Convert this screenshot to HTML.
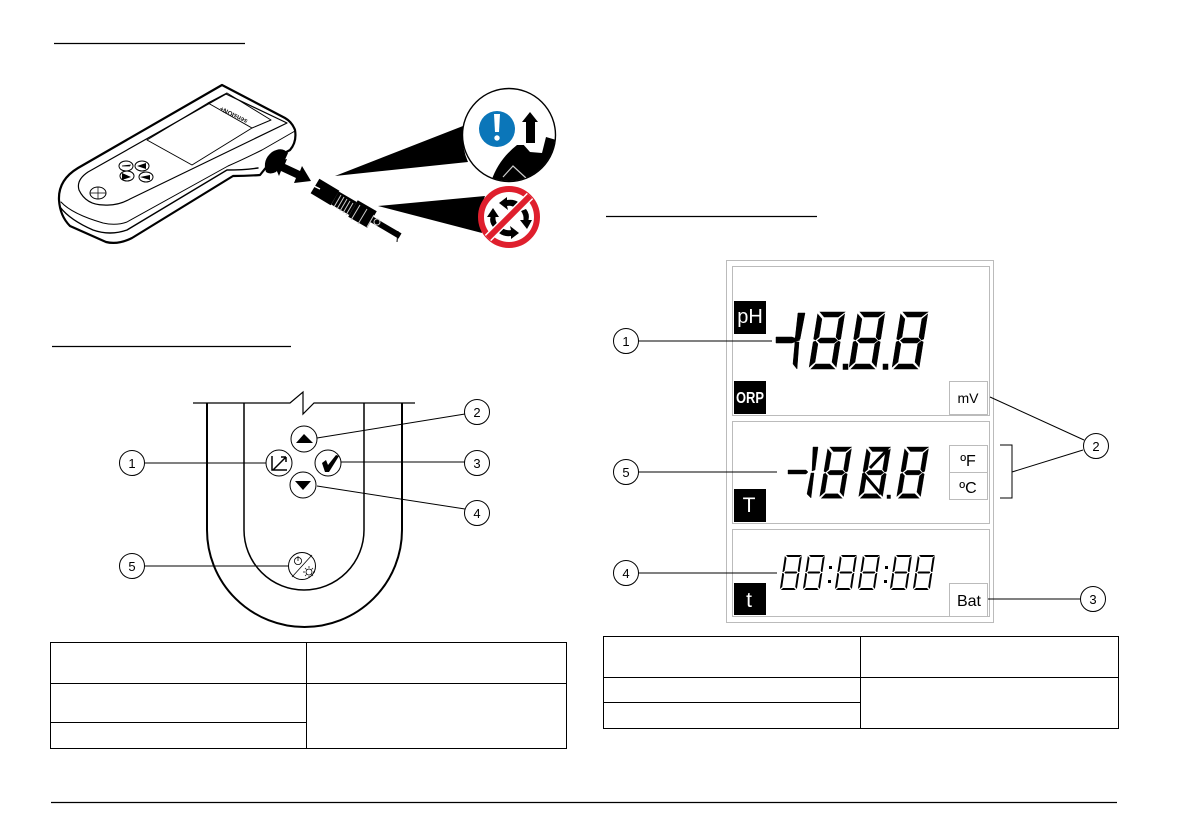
<!DOCTYPE html>
<html><head><meta charset="utf-8"><style>
html,body{margin:0;padding:0;background:#fff}
svg{display:block}
text{font-family:"Liberation Sans",sans-serif}
</style></head><body>
<svg width="1192" height="840" viewBox="0 0 1192 840" xmlns="http://www.w3.org/2000/svg">
<defs><clipPath id="mag"><circle cx="509" cy="135" r="46"/></clipPath></defs>
<rect width="1192" height="840" fill="#fff"/>
<!-- header rules -->
<g stroke="#000" stroke-width="1.3">
<path d="M54 43.500H245M52 346.500H291M606 216.500H817M51 802.500H1117"/>
</g>
<!-- meter -->
<g fill="none" stroke="#000" stroke-linejoin="round" stroke-linecap="round">
<path stroke-width="2.200" fill="#fff" d="M222 85L78 168Q58 180 59 200Q60 216 70 226L106 242Q118 245 132 238L233 176Q246 176 260 175L272 160L290 150Q297 142 295 130Q292 122 285 118Z"/>
<path stroke-width="1.400" d="M60 207Q70 220 93 230Q110 236 127 230L227 170Q244 170 258 168"/>
<path stroke-width="1" d="M61 202Q72 214 103 223Q116 226 127 222L228 166Q242 160 262 150L295 131"/>
<path stroke-width="1.200" d="M226 94L88 172Q76 180 79 190Q86 205 104 205Q118 206 130 199L287 123Z"/>
<path stroke-width="1" d="M208 103L252 128L192 165L147 140Z"/>
<path stroke-width="1" d="M208 103L227 93L271 120L252 128"/>
<ellipse cx="126" cy="166" rx="7" ry="5" stroke-width="1"/>
<ellipse cx="142" cy="166" rx="7" ry="5" stroke-width="1"/>
<ellipse cx="127" cy="176" rx="7" ry="5" stroke-width="1"/>
<ellipse cx="146" cy="177" rx="7" ry="5" stroke-width="1"/>
<ellipse cx="98" cy="193" rx="8" ry="6" stroke-width="1"/>
<path stroke-width=".7" d="M90 193H106M98 187V199"/>
</g>
<g fill="#000">
<path d="M122 166L131 165M123 166H130" stroke="#000" stroke-width=".8"/>
<path d="M137 166L146 163V169Z"/>
<path d="M122 173L131 177L122 180ZM140 177L150 175V180Z"/>
<path d="M266 172Q262 160 272 152Q282 146 288 153L284 162L276 172Q270 175 266 172Z"/>
<path d="M273 162L287 159L285 164L300 171L302 166L311 181L294 183L296 178L281 171L279 176Z"/>
</g>
<text transform="translate(248 120) rotate(207)" font-size="6.500" font-weight="bold" fill="#111">sensION+</text>
<!-- connector -->
<g fill="none" stroke="#000">
<path stroke-width="17" d="M315 186L335 198"/>
<path stroke-width="15" d="M335 198L353 208.500"/>
<path stroke-width="19" d="M353 208.500L372 219.500"/>
<path stroke-width="6" d="M372 219.500L400 236"/>
</g>
<path d="M398 231L397 242" stroke="#000" stroke-width="1"/>
<g stroke="#ccc" stroke-width="1" fill="none">
<path d="M341 195L334 207M344 197L337 209M347 199L340 211M350 201L343 213M353 203L346 215"/>
<path d="M360 205L351 220M367 209L358 224M374 215L367 227"/>
<path d="M318 179L314 186L320 189" stroke="#fff" stroke-width="1.500"/>
</g>
<circle cx="377" cy="222" r="3" fill="none" stroke="#ccc" stroke-width="1"/>
<!-- beams -->
<path d="M335 176L463 126Q461 146 468 162Z" fill="#000"/>
<path d="M378 206L485 196Q477 215 482 233Z" fill="#000"/>
<!-- magnifier circle -->
<circle cx="509" cy="135" r="46.500" fill="#fff" stroke="#000" stroke-width="1.400"/>
<g clip-path="url(#mag)">
<path d="M491 182Q498 160 517 145L527 145L542 153L546 137L560 141V190H491Z" fill="#000"/>
<path d="M522 143L540 149L542 153L530 152Z" fill="#fff"/>
<path d="M503 177L513 166L526 178" fill="none" stroke="#ccc" stroke-width="1.200"/>
</g>
<path d="M530 112L538 122H535V143H526V122H522Z" fill="#000"/>
<circle cx="497" cy="129" r="18" fill="#0b76b9"/>
<path d="M494 114H500L499 132H495Z" fill="#fff"/>
<circle cx="497" cy="138" r="2.700" fill="#fff"/>
<!-- prohibited -->
<circle cx="509" cy="217" r="28" fill="#fff" stroke="#df1f2d" stroke-width="6"/>
<g fill="#000">
<path d="M499 203L507 197L507 200Q514 199 518 202L516 208Q511 205 507 206L508 210Z"/>
<path d="M493 208L499 217L495.500 217Q495 221 498 225L493 227Q489 222 490.500 217L487 217Z"/>
<path d="M527 229L520 220L523.500 220Q524 215 521 211L526 209Q530 214 528.500 220L532 220Z"/>
<path d="M519 233L511 239L511 236Q504 237 499 233L502 228Q507 231 511 230L510 226Z"/>
</g>
<path d="M488 238L530 196" stroke="#fff" stroke-width="9"/>
<path d="M488 238L530 196" stroke="#df1f2d" stroke-width="6"/>
<!-- keypad -->
<g fill="none" stroke="#000">
<path stroke-width="1.200" d="M193 403H290L303 392V414L314 403H415"/>
<path stroke-width="2" d="M207 403V530A97.500 97 0 0 0 402 530V403"/>
<path stroke-width="1.500" d="M244 403V530A60 60 0 0 0 364 530V403"/>
</g>
<g fill="#fff" stroke="#000" stroke-width="1">
<circle cx="304" cy="439" r="13"/><circle cx="303" cy="485" r="13"/>
<circle cx="279" cy="463" r="13"/><circle cx="328" cy="463" r="13"/>
<circle cx="302" cy="566" r="13.500"/>
</g>
<path d="M296 443L304 434L313 443Z M295 481H311L303 490Z"/>
<path d="M322 463L326 460L328 465L336 455L339 456L329 472H325Z"/>
<path d="M272 456V470H287M273 470L286 457M286 457V462M286 457H281" fill="none" stroke="#000" stroke-width="1.500"/>
<path d="M292 577L312 555" stroke="#000" stroke-width=".8"/>
<circle cx="298" cy="561" r="3.600" fill="none" stroke="#000" stroke-width=".8"/>
<path d="M298 556V561" stroke="#000" stroke-width=".8"/>
<circle cx="309" cy="572" r="3" fill="none" stroke="#000" stroke-width=".8"/>
<path d="M309 566V568M309 576V578M303 572H305M313 572H315M305 568L306.500 569.500M313 576L311.500 574.500M305 576L306.500 574.500M313 568L311.500 569.500" stroke="#000" stroke-width=".7"/>
<g stroke="#000" stroke-width="1" fill="none">
<path d="M145 463H266M317 438L465 414M341 462H465M317 486L465 509M145 566H288"/>
</g>
<g fill="#fff" stroke="#000" stroke-width="1">
<circle cx="132" cy="463" r="12.500"/><circle cx="132" cy="566" r="12.500"/>
<circle cx="477" cy="412" r="12.500"/><circle cx="477" cy="463" r="12.500"/><circle cx="477" cy="513" r="12.500"/>
</g>
<g font-size="13" text-anchor="middle" fill="#000">
<text x="132" y="468">1</text><text x="132" y="571">5</text>
<text x="477" y="417">2</text><text x="477" y="468">3</text><text x="477" y="518">4</text>
</g>
<!-- tables -->
<g stroke="#000" stroke-width="1" fill="none">
<path d="M50.500 642.500H566.500V748.500H50.500ZM306.500 642.500V748.500M50.500 683.500H566.500M50.500 722.500H306.500"/>
<path d="M603.500 636.500H1118.500V728.500H603.500ZM860.500 636.500V728.500M603.500 677.500H1118.500M603.500 702.500H860.500"/>
</g>
<!-- LCD frames -->
<g fill="none" stroke="#bbb" stroke-width="1">
<rect x="726.500" y="260.500" width="267" height="362"/>
<rect x="732.500" y="266.500" width="257" height="149"/>
<rect x="732.500" y="421.500" width="257" height="102"/>
<rect x="732.500" y="529.500" width="257" height="87"/>
<rect x="949.500" y="381.500" width="38" height="33"/>
<rect x="949.500" y="445.500" width="38" height="27"/>
<rect x="949.500" y="472.500" width="38" height="27"/>
<rect x="949.500" y="583.500" width="38" height="33"/>
</g>
<g fill="#000">
<rect x="734" y="301" width="32" height="33"/>
<rect x="734" y="381" width="32" height="33"/>
<rect x="734" y="489" width="32" height="33"/>
<rect x="734" y="583" width="32" height="32"/>
</g>
<g fill="#fff" text-anchor="middle">
<text x="750" y="323" font-size="20">pH</text>
<text x="750" y="403" font-size="15.500" font-weight="bold" textLength="28" lengthAdjust="spacingAndGlyphs">ORP</text>
<text x="749" y="512" font-size="21">T</text>
<text x="749" y="607" font-size="21">t</text>
</g>
<g fill="#000" text-anchor="middle">
<text x="968" y="403" font-size="14">mV</text>
<text x="968" y="466" font-size="16">ºF</text>
<text x="968" y="493" font-size="16">ºC</text>
<text x="969" y="606" font-size="16">Bat</text>
</g>
<!-- big digits row 1 -->
<g fill="#000" stroke="#000" stroke-width=".5">
<path d="M776 337H792L800 340L792 343H776Z"/>
<path d="M798 313H805L800 339L795 340ZM795 342L799 342L797 369L793 364Z"/>
<path transform="matrix(1,0,-.16,1,818,312)" d="M2,0H27L21,5H7ZM2,57H26L20,52H6ZM4,28.500L7,26H21L24,28.500L21,31H7ZM0,2L5,7V25L2,28L0,27ZM0,30L2,29L5,32V50L0,55ZM27,2L22,7V25L25,28L27,27ZM27,30L25,29L22,32V50L27,55Z"/>
<path transform="matrix(1,0,-.16,1,858,312)" d="M2,0H27L21,5H7ZM2,57H26L20,52H6ZM4,28.500L7,26H21L24,28.500L21,31H7ZM0,2L5,7V25L2,28L0,27ZM0,30L2,29L5,32V50L0,55ZM27,2L22,7V25L25,28L27,27ZM27,30L25,29L22,32V50L27,55Z"/>
<path transform="matrix(1,0,-.16,1,901,312)" d="M2,0H27L21,5H7ZM2,57H26L20,52H6ZM4,28.500L7,26H21L24,28.500L21,31H7ZM0,2L5,7V25L2,28L0,27ZM0,30L2,29L5,32V50L0,55ZM27,2L22,7V25L25,28L27,27ZM27,30L25,29L22,32V50L27,55Z"/>
<rect x="843" y="364" width="5" height="5.500"/>
<rect x="883" y="364" width="5" height="5.500"/>
</g>
<!-- digits row 2 -->
<g fill="#000" stroke="#000" stroke-width=".4">
<path d="M788 470H806L808 472L806 474H788Z"/>
<path d="M813 447H818L815 470L812 471ZM811 473L814 473L811 498L807 494Z"/>
<path transform="matrix(.88,0,-.15,.9,828,447)" d="M2,0H27L21,5H7ZM2,57H26L20,52H6ZM4,28.500L7,26H21L24,28.500L21,31H7ZM0,2L5,7V25L2,28L0,27ZM0,30L2,29L5,32V50L0,55ZM27,2L22,7V25L25,28L27,27ZM27,30L25,29L22,32V50L27,55Z"/>
<path transform="matrix(.88,0,-.15,.9,867,447)" d="M2,0H27L21,5H7ZM2,57H26L20,52H6ZM4,28.500L7,26H21L24,28.500L21,31H7ZM0,2L5,7V25L2,28L0,27ZM0,30L2,29L5,32V50L0,55ZM27,2L22,7V25L25,28L27,27ZM27,30L25,29L22,32V50L27,55Z"/>
<path d="M888 449L870 468M863 473L881 494" stroke="#000" stroke-width="3"/>
<path transform="matrix(.88,0,-.15,.9,905,447)" d="M2,0H27L21,5H7ZM2,57H26L20,52H6ZM4,28.500L7,26H21L24,28.500L21,31H7ZM0,2L5,7V25L2,28L0,27ZM0,30L2,29L5,32V50L0,55ZM27,2L22,7V25L25,28L27,27ZM27,30L25,29L22,32V50L27,55Z"/>
<rect x="887" y="495" width="3.500" height="3.500"/>
</g>
<!-- digits row 3 -->
<g fill="#000">
<path transform="matrix(1,0,-.15,1,785,555)" d="M1,0H17L15,2H3ZM1,35H16L14,33H3ZM2,17.500L3,16.500H14L15,17.500L14,18.500H3ZM0,1L2,3V15.500L1,17L0,17ZM0,18L1,18L2,19.500V32L0,34ZM17,1L15,3V15.500L16,17L17,17ZM17,18L16,18L15,19.500V32L17,34Z"/>
<path transform="matrix(1,0,-.15,1,808,555)" d="M1,0H17L15,2H3ZM1,35H16L14,33H3ZM2,17.500L3,16.500H14L15,17.500L14,18.500H3ZM0,1L2,3V15.500L1,17L0,17ZM0,18L1,18L2,19.500V32L0,34ZM17,1L15,3V15.500L16,17L17,17ZM17,18L16,18L15,19.500V32L17,34Z"/>
<path transform="matrix(1,0,-.15,1,840,555)" d="M1,0H17L15,2H3ZM1,35H16L14,33H3ZM2,17.500L3,16.500H14L15,17.500L14,18.500H3ZM0,1L2,3V15.500L1,17L0,17ZM0,18L1,18L2,19.500V32L0,34ZM17,1L15,3V15.500L16,17L17,17ZM17,18L16,18L15,19.500V32L17,34Z"/>
<path transform="matrix(1,0,-.15,1,863,555)" d="M1,0H17L15,2H3ZM1,35H16L14,33H3ZM2,17.500L3,16.500H14L15,17.500L14,18.500H3ZM0,1L2,3V15.500L1,17L0,17ZM0,18L1,18L2,19.500V32L0,34ZM17,1L15,3V15.500L16,17L17,17ZM17,18L16,18L15,19.500V32L17,34Z"/>
<path transform="matrix(1,0,-.15,1,895,555)" d="M1,0H17L15,2H3ZM1,35H16L14,33H3ZM2,17.500L3,16.500H14L15,17.500L14,18.500H3ZM0,1L2,3V15.500L1,17L0,17ZM0,18L1,18L2,19.500V32L0,34ZM17,1L15,3V15.500L16,17L17,17ZM17,18L16,18L15,19.500V32L17,34Z"/>
<path transform="matrix(1,0,-.15,1,918,555)" d="M1,0H17L15,2H3ZM1,35H16L14,33H3ZM2,17.500L3,16.500H14L15,17.500L14,18.500H3ZM0,1L2,3V15.500L1,17L0,17ZM0,18L1,18L2,19.500V32L0,34ZM17,1L15,3V15.500L16,17L17,17ZM17,18L16,18L15,19.500V32L17,34Z"/>
<rect x="829" y="566" width="3" height="3"/><rect x="828" y="580" width="3" height="3"/>
<rect x="885" y="566" width="3" height="3"/><rect x="884" y="580" width="3" height="3"/>
</g>
<!-- LCD callouts -->
<g stroke="#000" stroke-width="1" fill="none">
<path d="M638 341H772M638 472H777M638 573H777M988 599H1080"/>
<path d="M990 397L1084 440M1012 472L1083 450M1000 445H1012V498H1000"/>
</g>
<g fill="#fff" stroke="#000" stroke-width="1">
<circle cx="626" cy="341" r="12.500"/><circle cx="626" cy="472" r="12.500"/><circle cx="626" cy="573" r="12.500"/>
<circle cx="1096" cy="446" r="12.500"/><circle cx="1093" cy="599" r="12.500"/>
</g>
<g font-size="13" text-anchor="middle" fill="#000">
<text x="626" y="346">1</text><text x="626" y="477">5</text><text x="626" y="578">4</text>
<text x="1096" y="451">2</text><text x="1093" y="604">3</text>
</g>
</svg>
</body></html>
